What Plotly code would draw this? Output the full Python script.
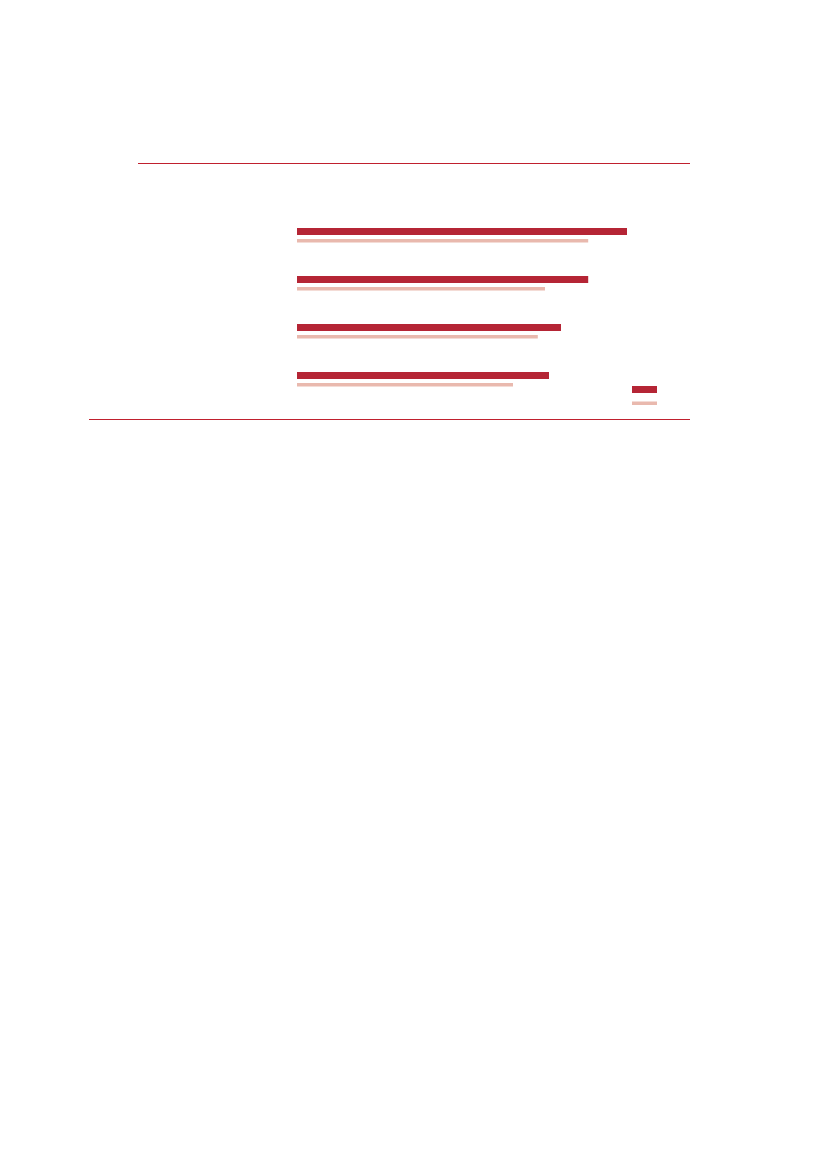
import plotly.graph_objects as go

# --- データ（ラベルは元図に無いので番号のみ）---
categories = ["1", "2", "3", "4"]
series_a = [82.5, 72.8, 66.0, 63.0]   # 濃い赤
series_b = [72.8, 62.0, 60.2, 54.0]   # 薄いピンク

W, H = 827, 1169
OFF = 8  # ページ余白の分を補正
dark = "#b52535"
light = "#e9b9ae"
rule = "#c0202e"

fig = go.Figure()
fig.add_trace(go.Bar(
    y=categories, x=series_a, orientation="h",
    marker=dict(color=dark, line=dict(width=0)),
    width=7 / 48, offset=-7.5 / 48,
    showlegend=False,
))
fig.add_trace(go.Bar(
    y=categories, x=series_b, orientation="h",
    marker=dict(color=light, line=dict(width=0)),
    width=3.5 / 48, offset=3.5 / 48,
    showlegend=False,
))

# 罫線と凡例の色見本（紙座標）
def px_x(v):
    return (v - OFF) / W

def px_y(v):
    return 1 - (v - OFF) / H

shapes = [
    dict(type="line", xref="paper", yref="paper",
         x0=px_x(138), x1=px_x(690), y0=px_y(163.5), y1=px_y(163.5),
         line=dict(color=rule, width=1)),
    dict(type="line", xref="paper", yref="paper",
         x0=px_x(89), x1=px_x(690), y0=px_y(419.5), y1=px_y(419.5),
         line=dict(color=rule, width=1)),
    dict(type="rect", xref="paper", yref="paper",
         x0=px_x(632), x1=px_x(657), y0=px_y(393), y1=px_y(386),
         fillcolor=dark, line=dict(width=0)),
    dict(type="rect", xref="paper", yref="paper",
         x0=px_x(632), x1=px_x(657), y0=px_y(405), y1=px_y(401.5),
         fillcolor=light, line=dict(width=0)),
]

fig.update_layout(
    width=W, height=H,
    margin=dict(l=0, r=0, t=0, b=0),
    paper_bgcolor="white", plot_bgcolor="white",
    barmode="overlay",
    shapes=shapes,
    xaxis=dict(domain=[(297 - OFF) / W, (697 - OFF) / W], range=[0, 100],
               visible=False, showgrid=False, zeroline=False),
    yaxis=dict(domain=[1 - (419 - OFF) / H, 1 - (163 - OFF) / H],
               range=[(419 - 235.5) / 48, (163 - 235.5) / 48],
               visible=False, showgrid=False, zeroline=False),
)

fig.write_html("out.html")
